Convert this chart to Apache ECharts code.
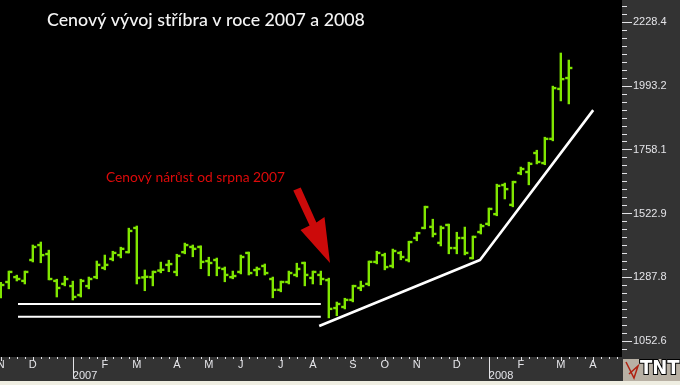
<!DOCTYPE html>
<html><head><meta charset="utf-8">
<script src="https://cdn.jsdelivr.net/npm/echarts@6/dist/echarts.min.js"></script>
<style>html,body{margin:0;padding:0;background:#333;}#c{width:680px;height:385px;}</style>
</head><body><div id="c"></div>
<script>
// Weekly OHLC (week index 0 = week ending 2006-11-03)
const open  = [1223,1271,1289,1275,1352,1407,1374,1275,1264,1256,1223,1256,1289,1323,1356,1370,1381,1470,1288,1289,1313,1334,1308,1381,1400,1400,1348,1352,1319,1289,1308,1378,1315,1330,1282,1242,1271,1297,1341,1286,1297,1278,1175,1179,1205,1249,1264,1345,1370,1330,1378,1352,1433,1470,1474,1415,1481,1396,1433,1359,1455,1485,1521,1628,1555,1672,1676,1746,1709,1798,1982,2022];
const high  = [1267,1308,1293,1308,1404,1415,1385,1278,1289,1271,1278,1286,1345,1367,1381,1396,1466,1474,1312,1308,1341,1348,1370,1411,1404,1401,1359,1356,1323,1308,1367,1378,1323,1334,1286,1271,1308,1337,1341,1308,1308,1282,1194,1208,1256,1271,1345,1381,1374,1389,1381,1418,1451,1547,1499,1474,1481,1451,1470,1437,1481,1540,1628,1632,1639,1691,1709,1753,1801,1989,2111,2085];
const low   = [1216,1249,1278,1267,1348,1345,1282,1219,1260,1208,1219,1249,1286,1319,1352,1363,1381,1267,1242,1260,1308,1312,1297,1378,1367,1323,1297,1297,1275,1286,1304,1300,1297,1300,1216,1238,1267,1293,1260,1267,1264,1142,1150,1175,1201,1242,1260,1341,1319,1326,1356,1348,1426,1470,1440,1407,1378,1378,1374,1359,1451,1481,1518,1580,1551,1669,1632,1709,1706,1794,1941,1930];
const close = [1260,1308,1282,1308,1400,1370,1282,1249,1282,1216,1275,1282,1334,1334,1378,1393,1459,1286,1290,1308,1316,1337,1367,1407,1393,1345,1341,1323,1297,1293,1363,1304,1319,1304,1242,1271,1304,1319,1297,1308,1282,1172,1190,1205,1256,1256,1345,1378,1326,1385,1363,1418,1451,1547,1448,1470,1396,1433,1378,1437,1477,1540,1625,1613,1639,1687,1706,1713,1798,1985,2018,2059];

// Axis tick labels
const priceTicks = [1052.6, 1287.8, 1522.9, 1758.1, 1993.2, 2228.4];
const monthTickWeeks  = [0,4,13,17,22,26,30,35,39,44,48,52,57,65,70,74];
const monthTickLabels = ['N','D','F','M','A','M','J','J','A','S','O','N','D','F','M','A'];
const yearTickWeeks  = [9, 61];
const yearTickLabels = ['2007', '2008'];

// Hand-drawn annotation lines (week index, price)
const supportUpper = [[2.15,1190],[40,1190]];
const supportLower = [[2.15,1143],[40,1143]];
const trendLine    = [[39.8,1109],[59.9,1352],[74.05,1904]];

const GREEN = '#80e600';
const AX = '#e4e4e8';
const ohlc = open.map((o,i)=>[i,o,high[i],low[i],close[i]]);

const step = (priceTicks[priceTicks.length-1]-priceTicks[0])/(priceTicks.length-1)/8;
const minorTicks = [];
for (let v = priceTicks[0]-2*step; v < 2309; v += step) minorTicks.push(+v.toFixed(2));
const weekTicks = [];
for (let w = 0; w <= 77; w++) weekTicks.push(w);

const XMIN = -0.1, XMAX = 77.65, YMIN = 994.8, YMAX = 2309.4;
function xAx(extra){
  return Object.assign({type:'value', min:XMIN, max:XMAX, position:'bottom', axisLine:{show:false, onZero:false}, splitLine:{show:false}}, extra);
}
function yAx(extra){
  return Object.assign({type:'value', min:YMIN, max:YMAX, position:'right', axisLine:{show:false, onZero:false}, splitLine:{show:false}}, extra);
}

const chart = echarts.init(document.getElementById('c'), null, {renderer:'canvas'});
chart.setOption({
  backgroundColor:'#333333',
  animation:false,
  grid:{left:0, right:58, top:0, bottom:28, show:true, backgroundColor:'#000', borderWidth:0, outerBoundsMode:'none'},
  xAxis:[
    xAx({axisTick:{customValues:weekTicks, length:2, lineStyle:{color:AX}}, axisLabel:{show:false}}),
    xAx({axisTick:{customValues:monthTickWeeks, length:4, lineStyle:{color:AX}},
         axisLabel:{customValues:monthTickWeeks, formatter:v=>monthTickLabels[monthTickWeeks.indexOf(Math.round(v))]||'', color:AX, fontSize:11, fontFamily:'Liberation Sans', margin:2}}),
    xAx({axisTick:{customValues:yearTickWeeks, length:21, lineStyle:{color:AX}},
         axisLabel:{customValues:yearTickWeeks, formatter:v=>yearTickLabels[yearTickWeeks.indexOf(Math.round(v))]||'', color:AX, fontSize:11, fontFamily:'Liberation Sans', margin:13, align:'left'}})
  ],
  yAxis:[
    yAx({axisTick:{customValues:minorTicks, length:5, lineStyle:{color:AX}},
         axisLabel:{customValues:priceTicks, formatter:v=>v.toFixed(1), color:AX, fontSize:11, fontFamily:'Liberation Sans', margin:11}}),
    yAx({axisTick:{customValues:priceTicks, length:10, lineStyle:{color:AX}}, axisLabel:{show:false}})
  ],
  series:[
    {type:'custom', xAxisIndex:0, yAxisIndex:0, data:ohlc, encode:{x:0, y:[1,2,3,4]},
     renderItem:function(params, api){
       const i = api.value(0);
       const po = api.coord([i, api.value(1)]);
       const ph = api.coord([i, api.value(2)]);
       const pl = api.coord([i, api.value(3)]);
       const pc = api.coord([i, api.value(4)]);
       const cx = po[0], w = 2.4, t = 3.6;
       const st = {fill:GREEN};
       return {type:'group', children:[
         {type:'rect', shape:{x:cx-w/2, y:ph[1]-w/2, width:w, height:pl[1]-ph[1]+w}, style:st},
         {type:'rect', shape:{x:cx-t, y:po[1]-w/2, width:t, height:w}, style:st},
         {type:'rect', shape:{x:cx, y:pc[1]-w/2, width:t, height:w}, style:st}
       ]};
     }},
    {type:'line', data:supportUpper, symbol:'none', silent:true, lineStyle:{color:'#fff', width:2}},
    {type:'line', data:supportLower, symbol:'none', silent:true, lineStyle:{color:'#fff', width:2}},
    {type:'line', data:trendLine, symbol:'none', silent:true, lineStyle:{color:'#fff', width:2.6}}
  ],
  graphic:[
    {type:'text', left:47, top:11, style:{text:'Cenový vývoj stříbra v roce 2007 a 2008', fill:'#f4f4f4', font:'500 17.8px Lato'}},
    {type:'text', left:106, top:171, style:{text:'Cenový nárůst od srpna 2007', fill:'#dd0a0a', font:'13.8px Lato'}},
    {type:'polygon', shape:{points:[[293.3,190.6],[300.7,187.4],[316.4,222.6],[324.5,217],[330,263],[300.5,230],[309.6,225.6]]}, style:{fill:'#cc0a0a'}},
    {type:'rect', shape:{x:0, y:381, width:680, height:4}, style:{fill:'#efeee2'}},
    {type:'rect', shape:{x:623, y:359, width:57, height:22}, style:{fill:'#b8b0a4'}},
    {type:'polyline', shape:{points:[[626,362],[634,378],[638,366],[629,374]]}, style:{stroke:'#b02010', lineWidth:1.5, fill:null}},
    {type:'text', left:639, top:358, style:{text:'TNT', fill:'#fff', stroke:'#000', lineWidth:2, font:'bold 20px "DejaVu Sans Condensed"'}}
  ]
});
</script></body></html>
